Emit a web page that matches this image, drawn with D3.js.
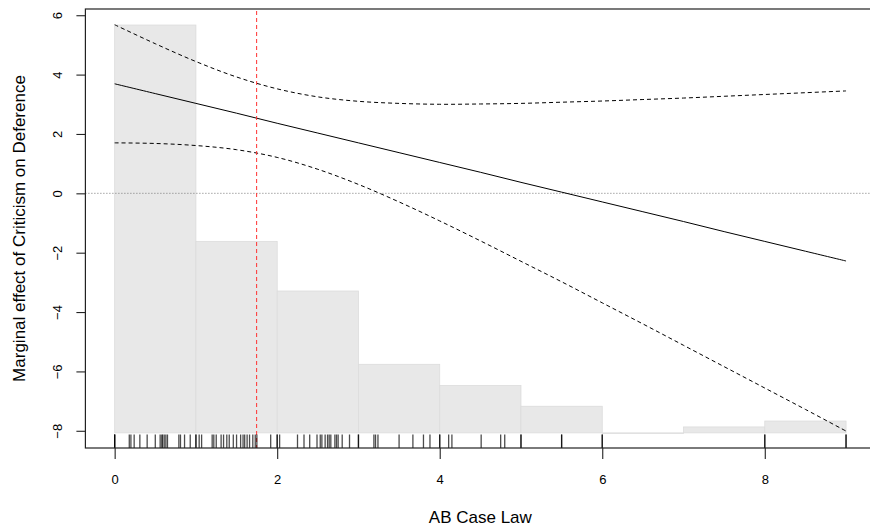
<!DOCTYPE html>
<html>
<head>
<meta charset="utf-8">
<script src="https://cdn.jsdelivr.net/npm/d3@7"></script>
<style>
  html, body { margin: 0; padding: 0; background: #fff; }
  svg { display: block; }
  text { font-family: "Liberation Sans", Arial, Helvetica, sans-serif; fill: #000; }
</style>
</head>
<body>
<svg id="chart" width="870" height="529"></svg>
<script>
// Moderator grid and estimated marginal effect with 95% band
const modGrid   = [0, 0.5, 1, 1.5, 2, 2.5, 3, 3.5, 4, 4.5, 5, 5.5, 6, 6.5, 7, 7.5, 8, 8.5, 9];
const effect    = [3.69, 3.36, 3.03, 2.70, 2.36, 2.03, 1.70, 1.37, 1.04, 0.71, 0.37, 0.04, -0.29, -0.62, -0.95, -1.29, -1.62, -1.95, -2.28];
const ciUpper   = [5.68, 5.04, 4.44, 3.92, 3.52, 3.25, 3.10, 3.03, 3.00, 3.01, 3.03, 3.07, 3.11, 3.16, 3.21, 3.27, 3.33, 3.39, 3.45];
const ciLower   = [1.70, 1.68, 1.61, 1.47, 1.21, 0.81, 0.30, -0.29, -0.93, -1.60, -2.29, -2.98, -3.69, -4.40, -5.12, -5.84, -6.56, -7.28, -8.01];

// Distribution of the moderator (unit-width bins)
const binStarts = [0, 1, 2, 3, 4, 5, 6, 7, 8];
const binCounts = [69, 32.4, 24, 11.6, 8, 4.5, 0, 1, 2];

// Observed moderator values for the rug
const rugValues = [
  0, 0, 0, 0.18, 0.20, 0.24, 0.31, 0.40, 0.50, 0.56, 0.58, 0.59, 0.61, 0.63, 0.65,
  0.79, 0.81, 0.86, 0.93, 1.00, 1.00, 1.04, 1.07, 1.20, 1.22, 1.25, 1.31, 1.34, 1.38,
  1.41, 1.46, 1.50, 1.55, 1.58, 1.60, 1.63, 1.66, 1.70, 1.73, 1.75, 1.92, 2.00, 2.00,
  2.03, 2.25, 2.33, 2.40, 2.49, 2.53, 2.55, 2.59, 2.62, 2.64, 2.66, 2.71, 2.73, 2.75,
  2.80, 2.89, 3.00, 3.00, 3.19, 3.21, 3.24, 3.50, 3.67, 3.80, 3.88, 4.00, 4.00, 4.11,
  4.15, 4.51, 4.75, 4.80, 5.00, 5.00, 5.50, 5.50, 6.00, 6.00, 8.00, 8.00, 9.00, 9.00
];

const modMean   = 1.747;
const xTicks    = [0, 2, 4, 6, 8];
const yTicks    = [-8, -6, -4, -2, 0, 2, 4, 6];
const xTitle    = "AB Case Law";
const yTitle    = "Marginal effect of Criticism on Deference";

const svg = d3.select("#chart");

const plot = { left: 85.4, right: 875.3, top: 9, bottom: 448 };

const x = d3.scaleLinear().domain([-0.36, 9.36]).range([plot.left, plot.right]);
const y = d3.scaleLinear().domain([-8.58, 6.21]).range([plot.bottom, plot.top]);

// histogram heights share the plot's vertical axis: base at -8.07, tallest bin at 5.67
const hY = d3.scaleLinear().domain([0, d3.max(binCounts)]).range([y(-8.07), y(5.67)]);

const g = svg.append("g");

// histogram
g.selectAll("rect.bin")
  .data(binStarts.map((s, i) => ({ s, c: binCounts[i] })))
  .join("rect")
  .attr("class", "bin")
  .attr("x", d => x(d.s))
  .attr("width", d => x(d.s + 1) - x(d.s))
  .attr("y", d => hY(d.c))
  .attr("height", d => Math.max(0.6, hY(0) - hY(d.c)))
  .attr("fill", "#e8e8e8")
  .attr("stroke", "#dcdcdc")
  .attr("stroke-width", 0.8);

// zero reference line
g.append("line")
  .attr("x1", plot.left).attr("x2", plot.right)
  .attr("y1", y(0)).attr("y2", y(0))
  .attr("stroke", "#777")
  .attr("stroke-width", 1)
  .attr("stroke-dasharray", "1,2");

const pts = (vals) => modGrid.map((m, i) => [m, vals[i]]);
const line = d3.line().x(d => x(d[0])).y(d => y(d[1])).curve(d3.curveCatmullRom.alpha(0.5));

// confidence band limits
[ciUpper, ciLower].forEach(v => {
  g.append("path")
    .attr("d", line(pts(v)))
    .attr("fill", "none")
    .attr("stroke", "#000")
    .attr("stroke-width", 1)
    .attr("stroke-dasharray", "4,3");
});

// point estimate
g.append("path")
  .attr("d", line(pts(effect)))
  .attr("fill", "none")
  .attr("stroke", "#000")
  .attr("stroke-width", 1);

// mean of the moderator
g.append("line")
  .attr("x1", x(modMean)).attr("x2", x(modMean))
  .attr("y1", plot.top + 2).attr("y2", plot.bottom)
  .attr("stroke", "#ff3030")
  .attr("stroke-width", 1)
  .attr("stroke-dasharray", "4,3");

// rug
g.selectAll("line.rug")
  .data(rugValues)
  .join("line")
  .attr("class", "rug")
  .attr("x1", d => x(d)).attr("x2", d => x(d))
  .attr("y1", plot.bottom - 13.5).attr("y2", plot.bottom)
  .attr("stroke", "#000")
  .attr("stroke-opacity", 0.7)
  .attr("stroke-width", 1.3);

// frame
svg.append("rect")
  .attr("x", plot.left).attr("y", plot.top)
  .attr("width", plot.right - plot.left)
  .attr("height", plot.bottom - plot.top)
  .attr("fill", "none")
  .attr("stroke", "#222")
  .attr("stroke-width", 1.2);

// x axis
const xAxis = svg.append("g")
  .attr("transform", `translate(0,${plot.bottom})`)
  .call(d3.axisBottom(x).tickValues(xTicks).tickSize(11).tickPadding(16).tickFormat(d3.format("d")));
xAxis.select(".domain").remove();
xAxis.selectAll(".tick line").attr("stroke", "#222").attr("stroke-width", 1.1);
xAxis.selectAll("text").attr("font-size", 13).attr("fill", "#000")
  .style("font-family", '"Liberation Sans", Arial, sans-serif');

// y axis, labels parallel to the axis
const yAxis = svg.append("g")
  .attr("transform", `translate(${plot.left},0)`)
  .call(d3.axisLeft(y).tickValues(yTicks).tickSize(9).tickFormat(d => d < 0 ? "\u2212" + Math.abs(d) : String(d)));
yAxis.select(".domain").remove();
yAxis.selectAll(".tick line").attr("stroke", "#222").attr("stroke-width", 1.1);
yAxis.selectAll("text")
  .attr("font-size", 13)
  .attr("fill", "#000")
  .style("font-family", '"Liberation Sans", Arial, sans-serif')
  .attr("text-anchor", "middle")
  .attr("x", null).attr("dy", null)
  .attr("transform", "translate(-23,0) rotate(-90)");

// axis titles
svg.append("text")
  .attr("x", (plot.left + plot.right) / 2)
  .attr("y", 523)
  .attr("text-anchor", "middle")
  .attr("font-size", 17)
  .text(xTitle);

svg.append("text")
  .attr("transform", `translate(25,${(plot.top + plot.bottom) / 2}) rotate(-90)`)
  .attr("text-anchor", "middle")
  .attr("font-size", 17)
  .text(yTitle);
</script>
</body>
</html>
